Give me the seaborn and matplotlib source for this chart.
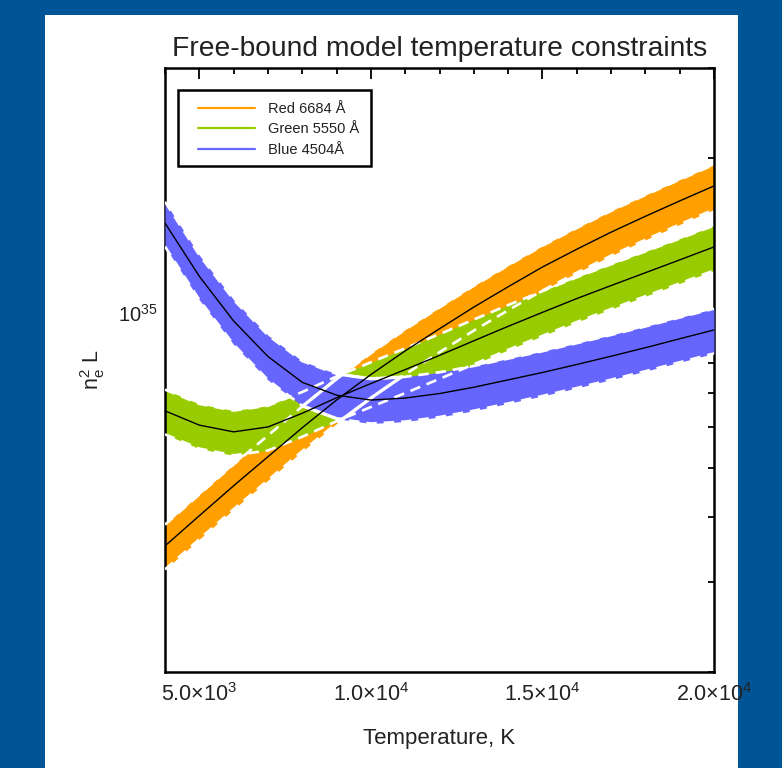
import numpy as np
import pandas as pd
import matplotlib
matplotlib.use("Agg")
import matplotlib.pyplot as plt
from matplotlib.patches import Rectangle
from matplotlib.lines import Line2D
from matplotlib.ticker import FixedLocator, FixedFormatter, LogLocator, NullFormatter, MultipleLocator
import seaborn as sns

# ---------------- data ----------------
temperature = [4000, 5000, 6000, 7000, 8000, 9000, 10000, 11000, 12000,
               13000, 14000, 15000, 16000, 17000, 18000, 19000, 20000]
# n_e^2 L in units of 1e34
red_6684 = [3.52, 4.03, 4.61, 5.25, 5.98, 6.77, 7.59, 8.44, 9.32,
            10.27, 11.25, 12.29, 13.31, 14.37, 15.43, 16.53, 17.68]
green_5550 = [6.45, 6.05, 5.87, 6.00, 6.38, 6.84, 7.29, 7.76, 8.27,
              8.83, 9.42, 10.03, 10.67, 11.31, 11.98, 12.69, 13.45]
blue_4504 = [14.97, 11.79, 9.65, 8.23, 7.33, 6.92, 6.77, 6.83, 6.97,
             7.17, 7.41, 7.66, 7.94, 8.24, 8.56, 8.91, 9.27]
unit = 1e34
band_frac = 0.10          # +/- fractional uncertainty band
series_labels = ["Red 6684 Å", "Green 5550 Å", "Blue 4504Å"]
x_ticks = [5000, 10000, 15000, 20000]
x_tick_labels = ["5.0×10$^{3}$", "1.0×10$^{4}$", "1.5×10$^{4}$", "2.0×10$^{4}$"]
y_ticks = [1e35]
y_tick_labels = [r"$\mathregular{10^{35}}$"]

colors = ["#FFA000", "#99CC00", "#6666FF"]

# ---------------- style ----------------
sns.set_theme(style="white")
plt.rcParams["font.family"] = ["Liberation Sans", "DejaVu Sans"]
plt.rcParams["mathtext.fontset"] = "custom"
plt.rcParams["mathtext.rm"] = "Liberation Sans"
plt.rcParams["mathtext.it"] = "Liberation Sans:italic"
plt.rcParams["mathtext.bf"] = "Liberation Sans:bold"
plt.rcParams["mathtext.default"] = "regular"

fig = plt.figure(figsize=(7.82, 7.68), dpi=100)
fig.patch.set_facecolor("#005596")
fig.add_artist(Rectangle((45 / 782, 0), (738 - 45) / 782, 1 - 15 / 768,
                         transform=fig.transFigure, facecolor="white",
                         edgecolor="none", zorder=-5))
ax = fig.add_axes([165 / 782, 1 - 672 / 768, (714 - 165) / 782, (672 - 68) / 768])
ax.set_facecolor("white")

# long-form frame
rows = []
for lab, vals in zip(series_labels, [red_6684, green_5550, blue_4504]):
    for t, v in zip(temperature, vals):
        rows.append({"T": t, "value": v * unit, "series": lab})
df = pd.DataFrame(rows)

T = np.array(temperature, dtype=float)
centers = [np.array(v) * unit for v in (red_6684, green_5550, blue_4504)]
lows = [c * (1 - band_frac) for c in centers]
highs = [c * (1 + band_frac) for c in centers]

# bands
for i, c in enumerate(colors):
    ax.fill_between(T, lows[i], highs[i], color=c, lw=0, zorder=1 + i)

# dashed white band edges
for i in range(3):
    for e in (lows[i], highs[i]):
        ax.plot(T, e, color="white", lw=1.9, dashes=(4.0, 2.6), zorder=5,
                solid_capstyle="butt", dash_capstyle="butt")

# solid white outline of the region allowed by all three bands
xf = np.linspace(T[0], T[-1], 3000)
lf = lambda y: 10 ** np.interp(xf, T, np.log10(y))
lo_f = [lf(l) for l in lows]
hi_f = [lf(h) for h in highs]
for i in range(3):
    for e in (lo_f[i], hi_f[i]):
        m = np.ones_like(xf, dtype=bool)
        for j in range(3):
            if j != i:
                m &= (e >= lo_f[j] * 0.999) & (e <= hi_f[j] * 1.001)
        ax.plot(xf, np.where(m, e, np.nan), color="white", lw=2.3, zorder=6,
                solid_capstyle="round")

# black central curves
sns.lineplot(data=df, x="T", y="value", units="series", estimator=None,
             color="black", lw=1.0, ax=ax, zorder=7, legend=False)

# axes
ax.set_yscale("log")
ax.set_xlim(4000, 20000)
ax.set_ylim(2e34, 3e35)
ax.xaxis.set_major_locator(FixedLocator(x_ticks))
ax.xaxis.set_major_formatter(FixedFormatter(x_tick_labels))
ax.xaxis.set_minor_locator(MultipleLocator(1000))
ax.yaxis.set_major_locator(FixedLocator(y_ticks))
ax.yaxis.set_major_formatter(FixedFormatter(y_tick_labels))
ax.yaxis.set_minor_locator(LogLocator(base=10, subs=np.arange(2, 10)))
ax.yaxis.set_minor_formatter(NullFormatter())
ax.tick_params(which="both", direction="in", top=True, right=True,
               color="black", width=1.3, labelcolor="#222222")
ax.tick_params(which="major", length=8)
ax.tick_params(axis="x", which="major", pad=8, labelsize=15.5)
ax.tick_params(axis="y", which="major", pad=5, labelsize=14.5)
ax.tick_params(which="minor", length=4.5)
for s in ax.spines.values():
    s.set_color("black")
    s.set_linewidth(1.8)

ax.set_xlabel("Temperature, K", fontsize=16, labelpad=16, color="#222222")
ax.set_ylabel(r"$\mathregular{n_e^{2}\ L}$", fontsize=15.5, labelpad=8, color="#222222")
ax.set_title("Free-bound model temperature constraints", fontsize=20.3, pad=9,
             color="#222222")

# legend: frame drawn as a box, entries placed inside it
ax.add_patch(Rectangle((0.0237, 0.8378), 0.3515, 0.1258, transform=ax.transAxes,
                       facecolor="white", edgecolor="black", lw=1.8, zorder=9))
handles = [Line2D([], [], color=c, lw=1.6) for c in colors]
leg = ax.legend(handles, series_labels, loc="upper left",
                bbox_to_anchor=(0.0388, 0.9636), borderaxespad=0,
                frameon=False, fontsize=10.5, handlelength=3.9,
                handletextpad=0.9, labelspacing=0.45, borderpad=0.8)
leg.set_zorder(10)
for t in leg.get_texts():
    t.set_color("#222222")

fig.savefig("out.png", dpi=100, facecolor=fig.get_facecolor())
